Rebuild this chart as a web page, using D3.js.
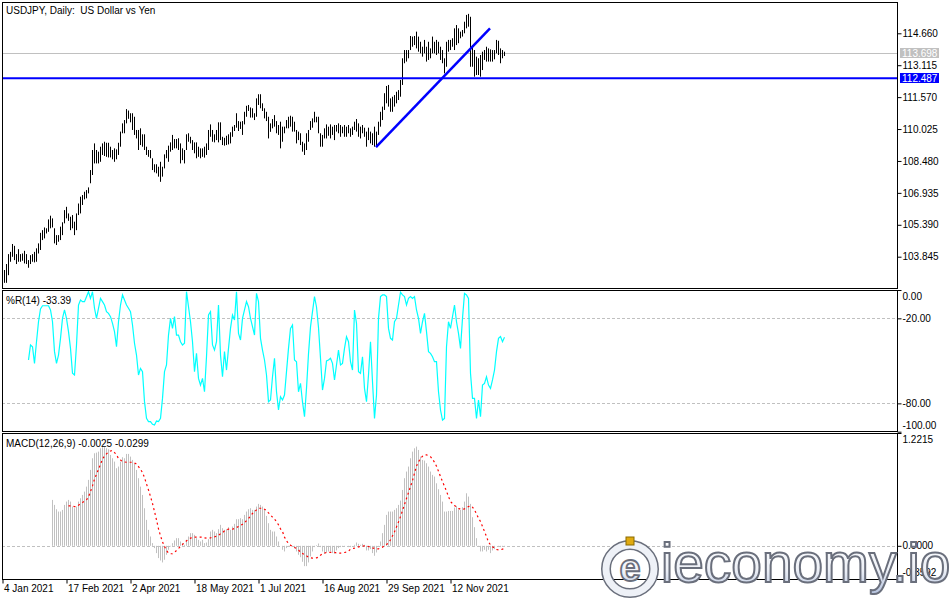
<!DOCTYPE html>
<html>
<head>
<meta charset="utf-8">
<script src="https://cdn.jsdelivr.net/npm/d3@7"></script>
<style>
    body { margin: 0; background: #ffffff; }
    svg { display: block; font-family: Tahoma, "Liberation Sans", Arial, sans-serif; }
</style>
</head>
<body>
<svg id="drawing_region"></svg>
<script>
// daily bars, 4 Jan 2021 onwards (high / low)
const price_high = [
    103.20, 103.49, 103.97, 104.08, 104.46, 104.37, 103.97, 104.21, 103.97, 104.00,   // 0
    104.13, 103.97, 103.68, 103.92, 103.97, 104.08, 104.25, 104.49, 105.00, 105.13,   // 10
    105.26, 105.22, 105.65, 105.83, 105.70, 105.22, 104.89, 104.89, 105.30, 105.51,   // 20
    106.10, 106.26, 105.94, 105.78, 105.86, 105.54, 105.94, 106.42, 106.75, 106.83,   // 30
    106.99, 107.07, 107.20, 108.04, 109.01, 109.33, 109.01, 108.93, 109.17, 109.33,   // 40
    109.41, 109.36, 109.36, 109.17, 109.01, 109.09, 109.04, 109.36, 109.90, 110.30,   // 50
    110.46, 110.99, 110.92, 110.79, 110.79, 110.62, 109.98, 109.98, 110.06, 109.77,   // 60
    109.77, 109.17, 109.01, 109.01, 108.61, 108.32, 108.32, 108.20, 108.44, 108.20,   // 70
    108.80, 109.01, 109.22, 109.38, 109.74, 109.54, 109.54, 109.58, 109.33, 109.09,   // 80
    109.01, 109.77, 109.82, 109.65, 109.49, 109.38, 109.38, 109.17, 109.09, 109.09,   // 90
    109.17, 109.33, 109.98, 110.25, 109.98, 109.77, 109.98, 110.35, 110.35, 109.65,   // 100
    109.60, 109.70, 109.77, 109.87, 110.14, 110.22, 110.79, 110.41, 110.38, 110.41,   // 110
    110.86, 111.15, 111.19, 111.07, 111.03, 110.79, 111.51, 111.71, 111.71, 111.27,   // 120
    111.03, 110.86, 110.62, 110.30, 110.51, 110.70, 110.41, 110.22, 110.38, 110.14,   // 130
    110.14, 110.46, 110.62, 110.67, 110.62, 110.38, 109.98, 109.90, 109.82, 109.41,   // 140
    109.33, 109.82, 109.98, 110.41, 110.54, 110.86, 110.62, 110.62, 109.82, 109.74,   // 150
    110.06, 110.25, 110.14, 110.25, 110.14, 110.22, 110.22, 110.30, 110.22, 110.14,   // 160
    110.22, 110.14, 110.22, 110.06, 110.14, 110.38, 110.51, 110.30, 110.14, 110.22,   // 170
    110.09, 109.90, 110.09, 109.90, 109.82, 110.14, 109.90, 110.38, 110.86, 111.11,   // 180
    111.76, 112.11, 112.16, 111.51, 111.59, 111.67, 111.83, 111.91, 112.40, 113.45,   // 190
    113.85, 113.85, 113.85, 114.53, 114.50, 114.53, 114.74, 114.50, 114.25, 114.01,   // 200
    114.34, 114.01, 114.25, 113.93, 114.50, 114.25, 114.34, 114.25, 114.01, 113.85,   // 210
    113.45, 114.25, 114.34, 114.34, 114.42, 114.90, 115.06, 114.90, 114.74, 114.82,   // 220
    115.22, 115.55, 115.60, 115.46, 114.09, 113.85, 113.53, 113.45, 113.61, 113.77,   // 230
    113.85, 114.01, 113.93, 113.88, 113.85, 113.85, 114.34, 114.30, 113.93, 113.85,   // 240
    113.77                                                                              // 250
];
const price_low = [
    102.58, 102.58, 102.95, 103.60, 103.84, 103.68, 103.49, 103.60, 103.60, 103.65,   // 0
    103.52, 103.49, 103.31, 103.49, 103.60, 103.57, 103.60, 104.00, 104.17, 104.65,   // 10
    104.73, 104.97, 105.05, 105.22, 105.26, 104.49, 104.41, 104.57, 104.65, 104.89,   // 20
    105.46, 105.70, 105.58, 105.13, 105.22, 104.89, 105.13, 105.86, 105.94, 106.35,   // 30
    106.62, 106.67, 106.91, 107.40, 107.80, 108.36, 108.36, 108.36, 108.44, 108.77,   // 40
    108.72, 108.68, 108.65, 108.65, 108.56, 108.44, 108.56, 108.77, 109.17, 109.82,   // 50
    109.82, 110.30, 110.52, 110.35, 109.98, 109.74, 109.57, 109.01, 109.25, 109.17,   // 60
    109.01, 108.77, 108.68, 108.61, 108.04, 107.93, 107.88, 107.72, 107.47, 107.72,   // 70
    108.12, 108.61, 108.44, 108.93, 109.01, 109.09, 109.09, 109.01, 108.36, 108.52,   // 80
    108.36, 109.01, 109.41, 109.33, 109.01, 108.85, 108.61, 108.68, 108.61, 108.68,   // 90
    108.64, 108.77, 109.01, 109.65, 109.41, 109.38, 109.49, 109.38, 109.49, 109.25,   // 100
    109.22, 109.25, 109.28, 109.33, 109.65, 109.93, 110.09, 109.93, 110.03, 109.74,   // 110
    110.25, 110.62, 110.90, 110.58, 110.58, 110.46, 110.62, 111.19, 111.03, 110.90,   // 120
    110.54, 110.41, 109.57, 109.89, 110.06, 110.14, 109.82, 109.74, 109.09, 109.41,   // 130
    109.82, 110.06, 110.06, 110.14, 109.90, 109.90, 109.33, 109.49, 109.25, 108.93,   // 140
    108.77, 109.01, 109.41, 109.98, 110.09, 110.35, 110.35, 109.82, 109.17, 109.17,   // 150
    109.57, 109.57, 109.70, 109.57, 109.74, 109.49, 109.90, 109.82, 109.65, 109.82,   // 160
    109.65, 109.65, 109.82, 109.65, 109.74, 109.98, 109.90, 109.65, 109.57, 109.82,   // 170
    109.65, 109.17, 109.49, 109.33, 109.25, 109.17, 109.15, 109.74, 110.14, 110.46,   // 180
    110.95, 111.27, 111.11, 110.86, 110.86, 111.11, 111.27, 111.43, 111.59, 112.16,   // 190
    113.21, 113.29, 113.45, 113.85, 114.01, 114.09, 113.93, 113.77, 113.69, 113.53,   // 200
    113.69, 113.29, 113.37, 113.45, 113.69, 113.69, 113.61, 113.69, 113.37, 113.21,   // 210
    112.72, 113.04, 113.77, 113.85, 114.01, 113.85, 114.09, 114.18, 114.42, 114.50,   // 220
    114.66, 114.90, 114.98, 113.04, 113.04, 112.56, 112.64, 112.64, 112.56, 112.88,   // 230
    113.37, 113.29, 113.29, 113.29, 113.29, 113.40, 113.69, 113.61, 113.21, 113.45,   // 240
    113.56                                                                              // 250
];

const bid_price = 113.698;
const hline_price = 112.487;
const trend_points = [ {i:186, price:109.15}, {i:243, price:114.90} ];
const price_ticks = [114.660, 113.115, 111.570, 110.025, 108.480, 106.935, 105.390, 103.845];

// Williams %R(14)
const wr_start = 12;
const wr_values = [
    -49.4, -38.8, -40.0, -51.8, -36.5, -22.4, -13.4, -11.1, -11.1, -11.1,   // 12
    -11.1, -14.1, -22.4, -43.5, -51.8, -45.9, -34.1, -20.0, -14.1, -20.0,   // 22
    -29.4, -41.2, -58.8, -60.0, -38.8, -10.6, -7.1, -8.2, -8.2, -4.7,       // 32
    -1.2, -5.9, -1.2, -12.9, -20.0, -12.9, -5.9, -8.2, -10.6, -15.3,        // 42
    -16.5, -18.8, -23.5, -29.4, -40.0, -22.4, -10.6, -3.5, -7.1, -10.6,     // 52
    -12.9, -15.3, -24.7, -37.6, -45.9, -60.0, -55.3, -57.6, -78.8, -90.6,   // 62
    -92.9, -92.9, -94.8, -95.3, -92.5, -92.9, -90.6, -76.5, -57.6, -52.9,   // 72
    -31.8, -20.0, -27.1, -18.8, -31.8, -31.8, -36.5, -38.8, -37.6, -1.2,    // 82
    -11.8, -22.4, -36.5, -57.6, -44.7, -62.4, -67.1, -62.4, -71.8, -47.1,   // 92
    -17.6, -15.3, -38.8, -42.4, -36.5, -10.6, -45.9, -61.2, -43.5, -56.5,   // 102
    -41.2, -27.1, -17.6, -21.2, -1.2, -30.6, -35.3, -20.0, -14.1, -8.2,     // 112
    -11.8, -20.0, -25.9, -31.8, -2.4, -8.2, -34.1, -42.4, -49.4, -60.0,     // 122
    -78.8, -77.6, -61.2, -48.2, -71.8, -84.7, -75.3, -77.6, -74.1, -57.6,   // 132
    -41.2, -27.1, -24.7, -49.4, -50.6, -71.8, -65.9, -79.0, -89.4, -69.4,   // 142
    -45.0, -26.0, -15.3, -4.7, -12.0, -26.5, -48.2, -70.6, -62.4, -50.1,    // 152
    -49.4, -48.2, -51.8, -63.5, -52.9, -42.4, -52.9, -51.8, -41.2, -32.9,   // 162
    -36.5, -50.6, -56.5, -14.1, -23.5, -57.6, -58.8, -47.1, -69.4, -78.8,   // 172
    -60.0, -36.5, -64.7, -90.6, -74.1, -20.0, -4.7, -3.5, -3.5, -4.7,       // 182
    -27.1, -34.1, -35.3, -22.4, -20.0, -10.6, -1.6, -3.5, -4.7, -10.6,      // 192
    -5.9, -4.7, -5.9, -4.7, -14.1, -20.0, -30.6, -22.4, -16.5, -29.4,       // 202
    -43.5, -44.7, -47.1, -50.6, -50.6, -71.8, -84.7, -91.8, -90.6, -40.0,   // 212
    -22.4, -27.1, -18.8, -10.6, -22.4, -30.6, -41.2, -20.0, -2.4, -3.5,     // 222
    -5.9, -58.8, -76.5, -76.5, -90.6, -77.6, -89.4, -67.1, -65.9, -61.2,    // 232
    -67.1, -69.4, -63.5, -56.5, -43.5, -34.1, -32.9, -36.5, -33.39          // 242
];
const wr_ticks = [0, -20, -80, -100];
const wr_levels = [-20, -80];

// MACD(12,26,9)
const macd_start = 24;
const macd_main = [
    0.497, 0.443, 0.396, 0.371, 0.371, 0.389, 0.443, 0.479, 0.497, 0.479,        // 24
    0.425, 0.407, 0.425, 0.479, 0.515, 0.551, 0.587, 0.641, 0.714, 0.822,        // 34
    0.948, 1.002, 1.009, 1.020, 1.056, 1.067, 1.067, 1.056, 1.045, 0.984,        // 44
    0.948, 0.912, 0.840, 0.858, 0.912, 0.959, 0.948, 0.995, 0.995, 0.966,        // 54
    0.930, 0.894, 0.822, 0.732, 0.641, 0.551, 0.407, 0.281, 0.173, 0.101,        // 64
    0.029, -0.025, -0.079, -0.133, -0.159, -0.180, -0.151, -0.097, -0.043, -0.007, // 74
    0.029, 0.058, 0.083, 0.083, 0.047, 0.029, 0.011, 0.065, 0.101, 0.137,        // 84
    0.137, 0.119, 0.083, 0.065, 0.047, 0.065, 0.029, 0.036, 0.072, 0.155,        // 94
    0.173, 0.155, 0.137, 0.180, 0.227, 0.191, 0.173, 0.180, 0.202, 0.173,        // 104
    0.209, 0.238, 0.288, 0.288, 0.299, 0.288, 0.335, 0.371, 0.396, 0.407,        // 114
    0.389, 0.389, 0.425, 0.454, 0.443, 0.425, 0.389, 0.324, 0.245, 0.173,        // 124
    0.155, 0.155, 0.101, 0.047, 0.000, -0.043, -0.061, -0.025, -0.007, 0.011,    // 134
    -0.007, -0.025, -0.061, -0.097, -0.123, -0.173, -0.220, -0.220, -0.180, -0.115, // 144
    -0.061, -0.014, 0.007, 0.025, -0.014, -0.061, -0.086, -0.072, -0.061, -0.061, // 154
    -0.079, -0.086, -0.050, -0.025, -0.014, -0.007, -0.007, 0.000, -0.014, -0.014, // 164
    0.000, 0.011, 0.036, 0.022, 0.011, 0.022, 0.011, -0.050, -0.050, -0.036,     // 174
    -0.079, -0.108, -0.072, -0.007, 0.047, 0.137, 0.227, 0.335, 0.371, 0.371,    // 184
    0.371, 0.389, 0.407, 0.443, 0.490, 0.605, 0.732, 0.804, 0.858, 0.948,        // 194
    1.020, 1.056, 1.074, 1.038, 0.966, 0.930, 0.923, 0.894, 0.858, 0.804,        // 204
    0.768, 0.750, 0.677, 0.613, 0.551, 0.479, 0.371, 0.371, 0.378, 0.378,        // 214
    0.378, 0.414, 0.432, 0.396, 0.389, 0.418, 0.479, 0.569, 0.533, 0.454,        // 224
    0.310, 0.202, 0.083, -0.007, -0.061, -0.061, -0.043, -0.061, -0.043, -0.079, // 234
    -0.050, -0.036, 0.000, -0.007, -0.014, -0.007, -0.0025                       // 244
];
const signal_start = 32;
const macd_signal = [
    0.432, 0.432, 0.429, 0.425, 0.425, 0.440, 0.454, 0.468, 0.483, 0.497,        // 32
    0.530, 0.587, 0.649, 0.724, 0.775, 0.829, 0.883, 0.937, 0.973, 0.995,        // 42
    1.016, 1.027, 1.031, 1.009, 0.987, 0.944, 0.930, 0.912, 0.908, 0.905,        // 52
    0.905, 0.905, 0.905, 0.897, 0.886, 0.858, 0.829, 0.793, 0.739, 0.670,        // 62
    0.605, 0.533, 0.458, 0.371, 0.281, 0.184, 0.108, 0.043, -0.007, -0.050,      // 72
    -0.079, -0.086, -0.086, -0.072, -0.050, -0.029, -0.007, 0.014, 0.036, 0.054, // 82
    0.068, 0.083, 0.090, 0.094, 0.094, 0.094, 0.094, 0.094, 0.086, 0.083,        // 92
    0.083, 0.086, 0.094, 0.097, 0.105, 0.115, 0.130, 0.141, 0.162, 0.173,        // 102
    0.180, 0.180, 0.180, 0.187, 0.198, 0.209, 0.220, 0.234, 0.249, 0.274,        // 112
    0.295, 0.324, 0.350, 0.368, 0.389, 0.407, 0.407, 0.407, 0.396, 0.382,        // 122
    0.357, 0.335, 0.310, 0.288, 0.263, 0.227, 0.184, 0.155, 0.094, 0.054,        // 132
    0.025, 0.007, -0.007, -0.018, -0.029, -0.043, -0.072, -0.083, -0.097, -0.108, // 142
    -0.123, -0.130, -0.133, -0.133, -0.130, -0.123, -0.101, -0.086, -0.079, -0.072, // 152
    -0.072, -0.072, -0.072, -0.072, -0.076, -0.079, -0.079, -0.076, -0.072, -0.068, // 162
    -0.058, -0.036, -0.029, -0.025, -0.018, -0.011, -0.007, -0.004, 0.000, -0.004, // 172
    -0.007, -0.014, -0.022, -0.029, -0.032, -0.032, -0.025, -0.014, 0.000, 0.014, // 182
    0.032, 0.065, 0.108, 0.151, 0.205, 0.259, 0.317, 0.382, 0.447, 0.512,        // 192
    0.577, 0.641, 0.706, 0.786, 0.865, 0.908, 0.948, 0.969, 0.984, 0.984,        // 202
    0.977, 0.966, 0.937, 0.905, 0.861, 0.807, 0.750, 0.695, 0.645, 0.591,        // 212
    0.533, 0.479, 0.458, 0.436, 0.422, 0.407, 0.396, 0.396, 0.400, 0.414,        // 222
    0.425, 0.432, 0.418, 0.389, 0.346, 0.299, 0.263, 0.209, 0.155, 0.101,        // 232
    0.040, 0.011, -0.011, -0.025, -0.040, -0.043, -0.043, -0.036, -0.0299        // 242
];
const macd_ticks = [1.2215, 0, -0.3592];

const date_ticks = [0, 32, 64, 96, 128, 160, 192, 224];
const date_labels = ['4 Jan 2021', '17 Feb 2021', '2 Apr 2021', '18 May 2021',
                     '1 Jul 2021', '16 Aug 2021', '29 Sep 2021', '12 Nov 2021'];

// plain hyphen minus like the terminal does
const locale = d3.formatLocale({decimal:'.', thousands:',', grouping:[3], currency:['',''], minus:'-'});
const f2 = locale.format('.2f'), f3 = locale.format('.3f'), f4 = locale.format('.4f');

const config = {
    parent: '#drawing_region',
    width: 950,
    height: 600,
    left: 2,
    right: 897,
    main: {top:2, bottom:288},
    wr: {top:290, bottom:431},
    macd: {top:433, bottom:579}
};

const svg = d3.select( config.parent )
    .attr('width', config.width)
    .attr('height', config.height);

const bars = price_high.map( (h, k) => ({i:k, high:h, low:price_low[k]}) );
const wr_data = wr_values.map( (v, k) => ({i:wr_start + k, value:v}) );
const macd_data = macd_main.map( (v, k) => ({i:macd_start + k, value:v}) );
const signal_data = macd_signal.map( (v, k) => ({i:signal_start + k, value:v}) );

const xscale = d3.scaleLinear()
    .domain( [0, bars.length - 1] )
    .range( [4, 4 + 2 * (bars.length - 1)] );
const px = i => Math.round( xscale(i) ) + 0.5;

const yprice = d3.scaleLinear()
    .domain( [price_ticks[price_ticks.length - 1], price_ticks[0]] )
    .range( [256.7, 33.3] );
const ywr = d3.scaleLinear()
    .domain( [-100, 0] )
    .range( [431.7, 290] );
const ymacd = d3.scaleLinear()
    .domain( [macd_ticks[2], macd_ticks[0]] )
    .range( [config.macd.bottom, config.macd.top] );

const defs = svg.append('defs');
['main', 'wr', 'macd'].forEach( name => {
    const p = config[name];
    defs.append('clipPath').attr('id', 'clip_' + name)
        .append('rect')
        .attr('x', config.left + 1).attr('y', p.top + 1)
        .attr('width', config.right - config.left - 1)
        .attr('height', p.bottom - p.top - 1);
});

// ---- main panel
const main = svg.append('g').attr('clip-path', 'url(#clip_main)');

main.append('line')
    .attr('x1', config.left).attr('x2', config.right)
    .attr('y1', Math.round(yprice(bid_price)) + 0.5)
    .attr('y2', Math.round(yprice(bid_price)) + 0.5)
    .attr('stroke', '#c0c0c0');

main.selectAll('line.bar')
    .data(bars)
    .enter()
    .append('line')
    .attr('class', 'bar')
    .attr('x1', d => px(d.i)).attr('x2', d => px(d.i))
    .attr('y1', d => yprice(d.high))
    .attr('y2', d => yprice(d.low))
    .attr('stroke', '#000000')
    .attr('stroke-width', 1);

main.append('line')
    .attr('x1', config.left).attr('x2', config.right)
    .attr('y1', yprice(hline_price)).attr('y2', yprice(hline_price))
    .attr('stroke', '#0000ff')
    .attr('stroke-width', 2);

main.append('line')
    .attr('x1', xscale(trend_points[0].i)).attr('y1', yprice(trend_points[0].price))
    .attr('x2', xscale(trend_points[1].i)).attr('y2', yprice(trend_points[1].price))
    .attr('stroke', '#0000ff')
    .attr('stroke-width', 2.5);

// ---- %R panel
const wrg = svg.append('g').attr('clip-path', 'url(#clip_wr)');

wrg.selectAll('line.level')
    .data(wr_levels)
    .enter()
    .append('line')
    .attr('class', 'level')
    .attr('x1', config.left).attr('x2', config.right)
    .attr('y1', d => Math.round(ywr(d)) + 0.5)
    .attr('y2', d => Math.round(ywr(d)) + 0.5)
    .attr('stroke', '#c0c0c0')
    .attr('stroke-dasharray', '3,2');

wrg.append('path')
    .datum(wr_data)
    .attr('d', d3.line().x(d => px(d.i)).y(d => ywr(d.value)))
    .attr('fill', 'none')
    .attr('stroke', '#00ffff')
    .attr('stroke-width', 1.2);

// ---- MACD panel
const mg = svg.append('g').attr('clip-path', 'url(#clip_macd)');

mg.append('line')
    .attr('x1', config.left).attr('x2', config.right)
    .attr('y1', Math.round(ymacd(0)) + 0.5).attr('y2', Math.round(ymacd(0)) + 0.5)
    .attr('stroke', '#c0c0c0')
    .attr('stroke-dasharray', '3,2');

mg.selectAll('line.hist')
    .data(macd_data)
    .enter()
    .append('line')
    .attr('class', 'hist')
    .attr('x1', d => px(d.i)).attr('x2', d => px(d.i))
    .attr('y1', ymacd(0))
    .attr('y2', d => ymacd(d.value))
    .attr('stroke', '#c0c0c0');

mg.append('path')
    .datum(signal_data)
    .attr('d', d3.line().x(d => px(d.i)).y(d => ymacd(d.value)))
    .attr('fill', 'none')
    .attr('stroke', '#ff0000')
    .attr('stroke-width', 1.2)
    .attr('stroke-dasharray', '2,3');

// ---- frames
['main', 'wr', 'macd'].forEach( name => {
    const p = config[name];
    svg.append('rect')
        .attr('x', config.left + 0.5).attr('y', p.top + 0.5)
        .attr('width', config.right - config.left)
        .attr('height', p.bottom - p.top)
        .attr('fill', 'none')
        .attr('stroke', '#000000');
});

// ---- right axes
function right_axis( scale, ticks, fmt, shift ) {
    const g = svg.append('g')
        .attr('transform', `translate(${config.right + 0.5}, 0)`)
        .call( d3.axisRight(scale).tickValues(ticks).tickFormat(fmt).tickSize(4) );
    g.select('.domain').remove();
    g.selectAll('text')
        .attr('x', 5)
        .attr('fill', '#000000')
        .attr('font-size', '10px')
        .attr('font-family', 'Tahoma, "Liberation Sans", Arial, sans-serif')
        .attr('transform', (d, k) => `translate(0, ${shift[k] || 0})`);
    return g;
}
right_axis( yprice, price_ticks, f3, [] );
right_axis( ywr, wr_ticks, f2, [6, 0, 0, -6] );
right_axis( ymacd, macd_ticks, f4, [6, -1, -7] );

// price tags on the scale
[ {price:bid_price, fill:'#c0c0c0'}, {price:hline_price, fill:'#0000ff'} ].forEach( t => {
    const y = Math.round(yprice(t.price));
    svg.append('rect')
        .attr('x', 900).attr('y', y - 5)
        .attr('width', 39).attr('height', 10)
        .attr('fill', t.fill);
    svg.append('text')
        .attr('x', 902).attr('y', y + 4)
        .attr('font-size', '10px')
        .attr('fill', '#ffffff')
        .text( f3(t.price) );
});

// ---- time axis
const xaxis_group = svg.append('g')
    .attr('transform', `translate(-1.5, ${config.macd.bottom + 0.5})`)
    .call( d3.axisBottom(xscale)
        .tickValues(date_ticks)
        .tickFormat( (d, k) => date_labels[k] )
        .tickSize(4) );
xaxis_group.select('.domain').remove();
xaxis_group.selectAll('text')
    .attr('text-anchor', 'start')
    .attr('x', 1)
    .attr('y', 5)
    .attr('fill', '#000000')
    .attr('font-size', '10px')
    .attr('font-family', 'Tahoma, "Liberation Sans", Arial, sans-serif');

// ---- panel captions
svg.append('text')
    .attr('x', 6).attr('y', 13.5)
    .attr('font-size', '10px')
    .style('white-space', 'pre')
    .text('USDJPY, Daily:  US Dollar vs Yen');
svg.append('text')
    .attr('x', 6).attr('y', 303.5)
    .attr('font-size', '10px')
    .text('%R(14) ' + f2(wr_values[wr_values.length - 1]));
svg.append('text')
    .attr('x', 6).attr('y', 447)
    .attr('font-size', '10px')
    .text('MACD(12,26,9) ' + f4(macd_main[macd_main.length - 1]) + ' ' + f4(macd_signal[macd_signal.length - 1]));

// ---- watermark
const grad = defs.append('linearGradient')
    .attr('id', 'wm_fill')
    .attr('x1', 0).attr('y1', 0).attr('x2', 0).attr('y2', 1);
grad.append('stop').attr('offset', '0%').attr('stop-color', '#ffffff');
grad.append('stop').attr('offset', '60%').attr('stop-color', '#eef1f7');
grad.append('stop').attr('offset', '100%').attr('stop-color', '#b4c2de');

const wm = svg.append('g');
wm.append('circle')
    .attr('cx', 630).attr('cy', 569).attr('r', 24)
    .attr('fill', 'none').attr('stroke', '#6a6f7c').attr('stroke-width', 10);
wm.append('circle')
    .attr('cx', 630).attr('cy', 569).attr('r', 24)
    .attr('fill', 'none').attr('stroke', '#eef1f7').attr('stroke-width', 7);
wm.append('text')
    .attr('x', 630).attr('y', 581)
    .attr('text-anchor', 'middle')
    .attr('font-family', '"Liberation Sans", Arial, sans-serif')
    .attr('font-size', '38px').attr('font-weight', 'bold')
    .attr('fill', 'url(#wm_fill)').attr('stroke', '#6a6f7c').attr('stroke-width', 1.8)
    .text('e');
wm.append('rect')
    .attr('x', 626).attr('y', 537).attr('width', 8).attr('height', 8)
    .attr('fill', '#e0aa10').attr('stroke', '#8a6a00').attr('stroke-width', 1);
wm.append('text')
    .attr('x', 661).attr('y', 582)
    .attr('font-family', '"Liberation Sans", Arial, sans-serif')
    .attr('font-size', '55px')
    .attr('fill', 'url(#wm_fill)').attr('stroke', '#6a6f7c').attr('stroke-width', 2)
    .text('ieconomy.io');
</script>
</body>
</html>
